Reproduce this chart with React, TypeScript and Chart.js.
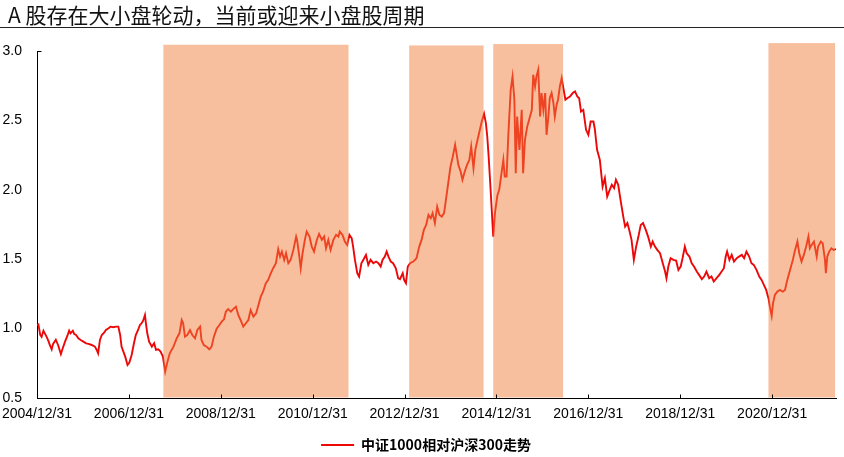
import React, { useEffect, useRef } from 'react';
import { Chart, registerables } from 'chart.js';

Chart.register(...registerables);

const chartTitle = 'A 股存在大小盘轮动，当前或迎来小盘股周期';
const seriesName = '中证1000相对沪深300走势';

// time axis in decimal years (2005.00 = 2004/12/31)
const dates = [
  2005.00, 2005.03, 2005.07, 2005.10, 2005.14, 2005.17, 2005.21, 2005.25, 2005.28, 2005.32,
  2005.35, 2005.41, 2005.46, 2005.52, 2005.56, 2005.61, 2005.66, 2005.70, 2005.73, 2005.78,
  2005.81, 2005.85, 2005.90, 2005.95, 2006.01, 2006.07, 2006.12, 2006.19, 2006.26, 2006.30,
  2006.33, 2006.37, 2006.41, 2006.46, 2006.50, 2006.55, 2006.60, 2006.66, 2006.72, 2006.77,
  2006.81, 2006.84, 2006.88, 2006.92, 2006.97, 2007.01, 2007.06, 2007.11, 2007.15, 2007.20,
  2007.24, 2007.28, 2007.31, 2007.35, 2007.37, 2007.40, 2007.44, 2007.50, 2007.55, 2007.59,
  2007.64, 2007.69, 2007.74, 2007.79, 2007.84, 2007.89, 2007.97, 2008.04, 2008.10, 2008.15,
  2008.18, 2008.22, 2008.27, 2008.33, 2008.38, 2008.44, 2008.49, 2008.55, 2008.58, 2008.63,
  2008.69, 2008.75, 2008.80, 2008.85, 2008.91, 2008.97, 2009.02, 2009.07, 2009.11, 2009.16,
  2009.22, 2009.27, 2009.33, 2009.38, 2009.43, 2009.49, 2009.55, 2009.60, 2009.65, 2009.71,
  2009.77, 2009.82, 2009.87, 2009.92, 2009.98, 2010.03, 2010.09, 2010.14, 2010.20, 2010.25,
  2010.29, 2010.33, 2010.38, 2010.42, 2010.47, 2010.52, 2010.58, 2010.64, 2010.66, 2010.71,
  2010.74, 2010.78, 2010.83, 2010.87, 2010.93, 2010.98, 2011.03, 2011.09, 2011.14, 2011.20,
  2011.25, 2011.29, 2011.34, 2011.39, 2011.45, 2011.51, 2011.56, 2011.59, 2011.65, 2011.70,
  2011.75, 2011.80, 2011.85, 2011.88, 2011.92, 2011.97, 2012.01, 2012.06, 2012.11, 2012.16,
  2012.21, 2012.26, 2012.32, 2012.38, 2012.43, 2012.48, 2012.52, 2012.57, 2012.61, 2012.65,
  2012.70, 2012.75, 2012.81, 2012.86, 2012.90, 2012.96, 2012.99, 2013.03, 2013.07, 2013.12,
  2013.19, 2013.26, 2013.32, 2013.37, 2013.42, 2013.47, 2013.52, 2013.57, 2013.61, 2013.66,
  2013.71, 2013.76, 2013.81, 2013.86, 2013.90, 2013.95, 2014.00, 2014.05, 2014.10, 2014.13,
  2014.17, 2014.22, 2014.26, 2014.31, 2014.36, 2014.41, 2014.45, 2014.50, 2014.54, 2014.58,
  2014.63, 2014.68, 2014.73, 2014.77, 2014.80, 2014.83, 2014.86, 2014.89, 2014.93, 2014.97,
  2015.02, 2015.06, 2015.11, 2015.15, 2015.18, 2015.22, 2015.26, 2015.31, 2015.35, 2015.39,
  2015.42, 2015.45, 2015.50, 2015.55, 2015.58, 2015.62, 2015.67, 2015.73, 2015.77, 2015.80,
  2015.84, 2015.87, 2015.91, 2015.95, 2015.98, 2016.02, 2016.06, 2016.09, 2016.13, 2016.16,
  2016.20, 2016.24, 2016.27, 2016.31, 2016.34, 2016.38, 2016.42, 2016.45, 2016.50, 2016.54,
  2016.60, 2016.66, 2016.71, 2016.76, 2016.80, 2016.84, 2016.89, 2016.95, 2017.00, 2017.05,
  2017.11, 2017.14, 2017.19, 2017.25, 2017.31, 2017.36, 2017.41, 2017.45, 2017.51, 2017.56,
  2017.60, 2017.65, 2017.70, 2017.76, 2017.80, 2017.85, 2017.89, 2017.94, 2017.99, 2018.04,
  2018.09, 2018.14, 2018.19, 2018.25, 2018.30, 2018.36, 2018.40, 2018.45, 2018.50, 2018.56,
  2018.62, 2018.67, 2018.70, 2018.74, 2018.79, 2018.85, 2018.91, 2018.96, 2019.01, 2019.05,
  2019.10, 2019.14, 2019.20, 2019.25, 2019.30, 2019.36, 2019.41, 2019.47, 2019.52, 2019.57,
  2019.63, 2019.68, 2019.73, 2019.79, 2019.85, 2019.90, 2019.95, 2019.99, 2020.02, 2020.07,
  2020.12, 2020.17, 2020.23, 2020.28, 2020.34, 2020.39, 2020.44, 2020.50, 2020.55, 2020.60,
  2020.66, 2020.72, 2020.77, 2020.82, 2020.87, 2020.92, 2020.95, 2020.99, 2021.02, 2021.06,
  2021.11, 2021.17, 2021.23, 2021.28, 2021.33, 2021.39, 2021.45, 2021.50, 2021.55, 2021.59,
  2021.64, 2021.69, 2021.74, 2021.79, 2021.82, 2021.86, 2021.91, 2021.97, 2022.00, 2022.06,
  2022.10, 2022.15, 2022.17, 2022.20, 2022.24, 2022.29, 2022.34, 2022.39,
];

const values = [
  1.026, 1.03, 0.954, 0.94, 0.985, 0.966, 0.94, 0.91, 0.88, 0.85,
  0.89, 0.92, 0.88, 0.817, 0.858, 0.906, 0.947, 0.985, 0.966, 0.985,
  0.96, 0.954, 0.93, 0.918, 0.906, 0.894, 0.89, 0.882, 0.87, 0.846,
  0.822, 0.918, 0.954, 0.97, 0.99, 1.0, 1.014, 1.01, 1.014, 1.014,
  0.954, 0.87, 0.834, 0.798, 0.738, 0.755, 0.81, 0.894, 0.954, 0.99,
  1.026, 1.04, 1.057, 1.098, 1.04, 0.966, 0.906, 0.87, 0.894, 0.846,
  0.85, 0.834, 0.798, 0.69, 0.762, 0.822, 0.87, 0.93, 0.966, 1.062,
  1.04, 0.942, 0.954, 0.99, 0.954, 0.93, 0.99, 1.014, 0.918, 0.882,
  0.87, 0.851, 0.87, 0.942, 1.0, 1.026, 1.05, 1.067, 1.122, 1.14,
  1.122, 1.14, 1.158, 1.098, 1.062, 1.014, 1.04, 1.062, 1.134, 1.086,
  1.11, 1.17, 1.23, 1.266, 1.327, 1.35, 1.399, 1.435, 1.471, 1.572,
  1.519, 1.555, 1.495, 1.543, 1.471, 1.495, 1.567, 1.663, 1.639, 1.519,
  1.435, 1.543, 1.639, 1.699, 1.663, 1.591, 1.555, 1.639, 1.682, 1.639,
  1.663, 1.579, 1.639, 1.567, 1.639, 1.675, 1.663, 1.699, 1.675, 1.627,
  1.603, 1.675, 1.651, 1.59, 1.495, 1.399, 1.375, 1.471, 1.5, 1.531,
  1.459, 1.495, 1.471, 1.483, 1.471, 1.447, 1.495, 1.519, 1.555, 1.519,
  1.483, 1.471, 1.435, 1.363, 1.356, 1.399, 1.351, 1.327, 1.447, 1.471,
  1.483, 1.507, 1.591, 1.639, 1.711, 1.747, 1.819, 1.795, 1.832, 1.76,
  1.879, 1.819, 1.807, 1.832, 1.928, 2.048, 2.168, 2.24, 2.324, 2.264,
  2.18, 2.132, 2.072, 2.132, 2.18, 2.216, 2.312, 2.156, 2.288, 2.348,
  2.42, 2.492, 2.548, 2.48, 2.384, 2.24, 2.072, 1.9, 1.663, 1.84,
  1.96, 2.0, 2.12, 2.216, 2.096, 2.096, 2.408, 2.72, 2.816, 2.649,
  2.12, 2.528, 2.288, 2.576, 2.12, 2.36, 2.456, 2.528, 2.576, 2.829,
  2.745, 2.816, 2.865, 2.528, 2.697, 2.576, 2.697, 2.396, 2.528, 2.66,
  2.697, 2.625, 2.528, 2.613, 2.649, 2.745, 2.805, 2.745, 2.649, 2.66,
  2.672, 2.697, 2.709, 2.672, 2.66, 2.564, 2.576, 2.432, 2.396, 2.492,
  2.492, 2.44, 2.288, 2.216, 2.023, 2.084, 1.951, 1.987, 2.036, 2.012,
  2.072, 2.036, 1.928, 1.807, 1.735, 1.76, 1.711, 1.639, 1.495, 1.591,
  1.663, 1.747, 1.76, 1.711, 1.663, 1.591, 1.627, 1.591, 1.567, 1.543,
  1.471, 1.411, 1.363, 1.447, 1.507, 1.495, 1.49, 1.423, 1.447, 1.507,
  1.591, 1.543, 1.519, 1.471, 1.447, 1.411, 1.387, 1.356, 1.375, 1.411,
  1.363, 1.375, 1.339, 1.363, 1.387, 1.411, 1.435, 1.519, 1.555, 1.495,
  1.531, 1.483, 1.507, 1.519, 1.531, 1.507, 1.555, 1.519, 1.471, 1.459,
  1.423, 1.375, 1.351, 1.315, 1.279, 1.219, 1.158, 1.091, 1.183, 1.243,
  1.266, 1.279, 1.266, 1.279, 1.351, 1.423, 1.495, 1.567, 1.627, 1.543,
  1.483, 1.531, 1.591, 1.663, 1.579, 1.603, 1.627, 1.519, 1.591, 1.627,
  1.615, 1.495, 1.399, 1.519, 1.555, 1.579, 1.567, 1.573,
];

const xTickValues = [2005, 2007, 2009, 2011, 2013, 2015, 2017, 2019, 2021];
const xTickLabels = ['2004/12/31', '2006/12/31', '2008/12/31', '2010/12/31', '2012/12/31', '2014/12/31', '2016/12/31', '2018/12/31', '2020/12/31'];
const yTickLabels = ['0.5', '1.0', '1.5', '2.0', '2.5', '3.0'];

// shaded small-cap periods
const bandStarts = [2007.75, 2013.10, 2014.93, 2020.92];
const bandEnds = [2011.78, 2014.72, 2016.45, 2022.37];
const bandTops = [3.045, 3.04, 3.05, 3.057];

const X_MIN = 2005;
const X_MAX = 2022.39;

const overlayPlugin = {
  id: 'overlayBands',
  afterLayout(chart: any) {
    if (chart.legend) {
      chart.legend.left += 8;
      chart.legend.right += 8;
    }
  },
  afterDatasetsDraw(chart: any) {
    const { ctx, scales } = chart;
    const x = scales.x;
    const y = scales.y;
    ctx.save();
    ctx.fillStyle = 'rgba(240,128,62,0.5)';
    bandStarts.forEach((s, i) => {
      const x1 = x.getPixelForValue(s);
      const x2 = x.getPixelForValue(bandEnds[i]);
      const yt = y.getPixelForValue(bandTops[i]);
      const yb = y.getPixelForValue(0.5) - 0.5;
      ctx.fillRect(x1, yt, x2 - x1, yb - yt);
    });
    // inward tick marks
    ctx.strokeStyle = '#000';
    ctx.lineWidth = 1;
    const base = Math.round(y.getPixelForValue(0.5)) + 0.5;
    xTickValues.forEach((v) => {
      const px = Math.round(x.getPixelForValue(v)) + 0.5;
      ctx.beginPath();
      ctx.moveTo(px, base);
      ctx.lineTo(px, base - 4);
      ctx.stroke();
    });
    const topY = Math.round(y.getPixelForValue(3.0)) + 0.5;
    const left = Math.round(x.getPixelForValue(X_MIN)) + 0.5;
    ctx.beginPath();
    ctx.moveTo(left, topY);
    ctx.lineTo(left + 4, topY);
    ctx.stroke();
    ctx.restore();
  },
};

function App() {
  const canvasRef = useRef<HTMLCanvasElement | null>(null);

  useEffect(() => {
    if (!canvasRef.current) return;
    const red = 'rgb(236,8,8)';
    const chart = new Chart(canvasRef.current, {
      type: 'line',
      data: {
        datasets: [
          {
            label: seriesName,
            data: dates.map((d, i) => ({ x: d, y: values[i] })),
            borderColor: red,
            backgroundColor: red,
            borderWidth: 1.9,
            pointRadius: 0,
            tension: 0,
            fill: false,
          },
        ],
      },
      options: {
        animation: false,
        responsive: true,
        maintainAspectRatio: false,
        layout: { padding: { top: 51, right: 8, left: 0, bottom: 0 } },
        plugins: {
          tooltip: { enabled: false },
          legend: {
            position: 'bottom',
            labels: {
              boxWidth: 33,
              boxHeight: 2,
              padding: 10,
              color: '#333',
              font: { family: '"Noto Sans CJK SC", sans-serif', size: 14, weight: 'bold' },
              generateLabels: () => [
                {
                  text: seriesName,
                  fillStyle: red,
                  strokeStyle: red,
                  lineWidth: 0,
                  hidden: false,
                  datasetIndex: 0,
                },
              ],
            },
          },
        },
        scales: {
          x: {
            type: 'linear',
            min: X_MIN,
            max: X_MAX,
            grid: { display: false, drawTicks: false },
            border: { display: true, color: '#000', width: 1 },
            afterBuildTicks: (scale: any) => {
              scale.ticks = xTickValues.map((v) => ({ value: v }));
            },
            afterFit: (scale: any) => {
              scale.height = 30;
              scale.paddingLeft = 0;
              scale.paddingRight = 0;
            },
            ticks: {
              autoSkip: false,
              maxRotation: 0,
              minRotation: 0,
              padding: 8,
              color: '#000',
              font: { family: '"Liberation Sans", Arial, sans-serif', size: 14 },
              callback: (_v: any, i: number) => xTickLabels[i],
            },
          },
          y: {
            min: 0.5,
            max: 3.0,
            grid: { display: false, drawTicks: false },
            border: { display: true, color: '#000', width: 1 },
            afterFit: (scale: any) => {
              scale.width = 37;
              scale.paddingTop = 0;
              scale.paddingBottom = 0;
            },
            ticks: {
              stepSize: 0.5,
              padding: 15,
              color: '#000',
              font: { family: '"Liberation Sans", Arial, sans-serif', size: 14 },
              callback: (_v: any, i: number) => yTickLabels[i],
            },
          },
        },
      },
      plugins: [overlayPlugin],
    } as any);
    return () => chart.destroy();
  }, []);

  return (
    <div
      style={{
        position: 'fixed',
        left: 0,
        top: 0,
        width: 844,
        height: 457,
        overflow: 'hidden',
        background: '#fff',
      }}
    >
      <div style={{ position: 'absolute', left: 0, top: 0, width: 844, height: 462 }}>
        <canvas ref={canvasRef} />
      </div>
      <div
        style={{
          position: 'absolute',
          left: 0,
          top: 0,
          width: 844,
          height: 28,
          borderBottom: '1.5px solid #222',
          fontFamily: '"Noto Sans CJK SC", sans-serif',
          fontSize: 21,
          lineHeight: '28px',
          color: '#111',
          paddingLeft: 8,
          boxSizing: 'border-box',
          whiteSpace: 'nowrap',
        }}
      >
        {chartTitle}
      </div>
    </div>
  );
}

export default App;
